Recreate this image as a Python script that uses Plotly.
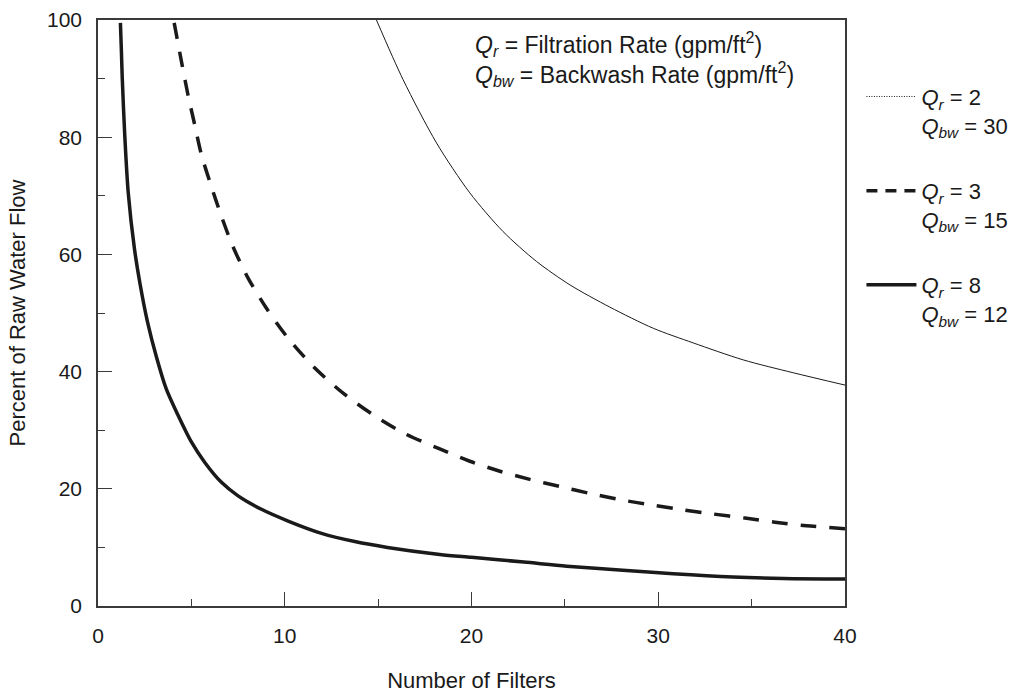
import plotly.graph_objects as go

# ---- data ----
# Qr = 2, Qbw = 30 (thin line)
x_q2 = [14.91, 16.34, 18.13, 19.91, 21.69, 23.48, 25.27, 27.41, 29.73, 31.87, 34.55, 37.23, 40.0]
y_q2 = [100.0, 89.8, 79.0, 70.5, 63.9, 58.8, 54.8, 51.0, 47.4, 44.9, 42.0, 39.8, 37.7]

# Qr = 3, Qbw = 15 (dashed line)
x_q3 = [4.08, 4.47, 4.82, 5.18, 5.54, 6.07, 6.61, 7.23, 8.03, 9.02, 10.18, 11.61, 13.21,
        14.84, 16.44, 18.30, 19.91, 21.52, 23.12, 24.73, 26.34, 28.03, 29.73, 31.33,
        32.94, 34.64, 36.25, 37.94, 40.0]
y_q3 = [99.5, 92.9, 87.2, 82.1, 77.0, 71.6, 66.5, 61.3, 56.0, 50.8, 45.7, 40.6, 36.1,
        32.4, 29.4, 26.8, 24.7, 23.0, 21.6, 20.4, 19.2, 18.1, 17.2, 16.4,
        15.7, 15.0, 14.3, 13.7, 13.2]

# Qr = 8, Qbw = 12 (thick solid line)
x_q8 = [1.20, 1.25, 1.30, 1.43, 1.62, 1.95, 2.25, 2.65, 3.13, 3.66, 4.28, 5.00, 5.72,
        6.61, 7.50, 8.75, 10.18, 11.97, 13.75, 15.5, 18.3, 20.0, 22.8, 25.1, 28.1,
        30.8, 34.0, 36.7, 40.0]
y_q8 = [99.5, 95.0, 90.0, 80.5, 70.5, 61.0, 55.0, 48.5, 42.5, 37.0, 32.6, 28.0, 24.5,
        21.1, 18.8, 16.5, 14.5, 12.4, 11.0, 10.0, 8.8, 8.3, 7.5, 6.8, 6.1,
        5.5, 4.95, 4.7, 4.6]

legend_names = [
    "<i>Q<sub>r</sub></i> = 2<br><i>Q<sub>bw</sub></i> = 30",
    "<i>Q<sub>r</sub></i> = 3<br><i>Q<sub>bw</sub></i> = 15",
    "<i>Q<sub>r</sub></i> = 8<br><i>Q<sub>bw</sub></i> = 12",
]

x_ticks = [0, 10, 20, 30, 40]
y_ticks = [0, 20, 40, 60, 80, 100]

FONT = "Liberation Sans, Arial, sans-serif"
INK = "#1a1a1a"
AX = "#3a3a3a"

fig = go.Figure()

# curves
fig.add_trace(go.Scatter(x=x_q2, y=y_q2, mode="lines", showlegend=False,
                         line=dict(color=INK, width=1, shape="spline", smoothing=0.8)))
fig.add_trace(go.Scatter(x=x_q3, y=y_q3, mode="lines", showlegend=False,
                         line=dict(color=INK, width=3.5, dash="16px,13px",
                                   shape="spline", smoothing=0.8)))
fig.add_trace(go.Scatter(x=x_q8, y=y_q8, mode="lines", showlegend=False,
                         line=dict(color=INK, width=3.5, shape="spline", smoothing=0.8)))

# legend entries (legend symbols as in the reference)
leg_styles = [dict(color=INK, width=1, dash="1px,1.5px"),
              dict(color=INK, width=3.5, dash="11px,8px"),
              dict(color=INK, width=3.5)]
for i, (name, st) in enumerate(zip(legend_names, leg_styles)):
    fig.add_trace(go.Scatter(x=[None], y=[None], mode="lines", name=name,
                             line=st, legendgroup=f"g{i}"))

fig.update_layout(
    width=1024, height=694,
    margin=dict(l=98, r=179, t=20, b=88, autoexpand=False),
    paper_bgcolor="white", plot_bgcolor="white",
    font=dict(family=FONT, size=20, color=INK),
    legend=dict(x=1.022, y=0.905, xanchor="left", yanchor="top",
                traceorder="grouped", tracegroupgap=34, valign="top",
                font=dict(family=FONT, size=22, color=INK),
                bgcolor="rgba(0,0,0,0)", itemwidth=50),
    annotations=[dict(
        xref="paper", yref="paper", x=0.502, y=0.99, xanchor="left", yanchor="top",
        align="left", showarrow=False,
        text="<i>Q<sub>r</sub></i> = Filtration Rate (gpm/ft<sup>2</sup>)<br>"
             "<i>Q<sub>bw</sub></i> = Backwash Rate (gpm/ft<sup>2</sup>)",
        font=dict(family=FONT, size=23, color=INK))],
)

fig.update_xaxes(range=[0, 40], tickvals=x_ticks, ticks="inside", ticklen=14,
                 tickwidth=1.2, tickcolor=AX, showline=True, linecolor=AX, linewidth=1.5,
                 mirror=True, showgrid=False, zeroline=False,
                 minor=dict(ticks="inside", ticklen=7, tickwidth=1.2, tickcolor=AX,
                            dtick=5, tick0=0, showgrid=False),
                 ticklabelstandoff=10, automargin=False,
                 title=dict(text="Number of Filters", standoff=27,
                            font=dict(family=FONT, size=22)),
                 tickfont=dict(family=FONT, size=21))
fig.update_yaxes(range=[0, 100], tickvals=y_ticks, ticks="inside", ticklen=14,
                 tickwidth=1.2, tickcolor=AX, showline=True, linecolor=AX, linewidth=1.5,
                 mirror=True, showgrid=False, zeroline=False,
                 minor=dict(ticks="inside", ticklen=7, tickwidth=1.2, tickcolor=AX,
                            dtick=10, tick0=0, showgrid=False),
                 ticklabelstandoff=10, automargin=False,
                 title=dict(text="Percent of Raw Water Flow", standoff=15,
                            font=dict(family=FONT, size=22)),
                 tickfont=dict(family=FONT, size=21))

fig.write_html("out.html")
